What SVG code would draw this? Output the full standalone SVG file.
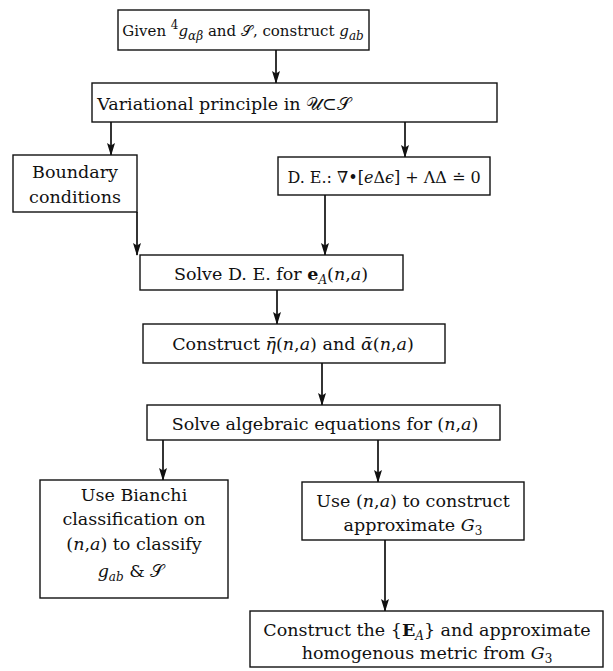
<svg xmlns="http://www.w3.org/2000/svg" width="613" height="671" viewBox="0 0 613 671">
<style>
.box{fill:#fff;stroke:#111;stroke-width:1.4}
.t{font-family:"DejaVu Serif","Liberation Serif",serif;font-size:17.5px;fill:#111;text-anchor:middle}
.i{font-style:italic}
.b{font-weight:bold}
.c{stroke:#111;stroke-width:1.7;fill:none}
.sub{font-size:12px}
</style>
<defs>
<marker id="ah" markerWidth="13" markerHeight="8" refX="12" refY="4" orient="auto" markerUnits="userSpaceOnUse" viewBox="0 0 13 8">
<path d="M0,0 L2.5,4 L0,8 L13,4 Z" fill="#111"/>
</marker>
</defs>
<rect width="613" height="671" fill="#fff"/>
<g id="connectors">
<line class="c" x1="276" y1="50" x2="276" y2="83" marker-end="url(#ah)"/>
<line class="c" x1="111" y1="122" x2="111" y2="155" marker-end="url(#ah)"/>
<line class="c" x1="405" y1="122" x2="405" y2="157" marker-end="url(#ah)"/>
<line class="c" x1="137" y1="212" x2="137" y2="255" marker-end="url(#ah)"/>
<line class="c" x1="325" y1="195" x2="325" y2="255" marker-end="url(#ah)"/>
<line class="c" x1="277" y1="290" x2="277" y2="324" marker-end="url(#ah)"/>
<line class="c" x1="322" y1="363" x2="322" y2="405" marker-end="url(#ah)"/>
<line class="c" x1="163" y1="440" x2="163" y2="480" marker-end="url(#ah)"/>
<line class="c" x1="378" y1="440" x2="378" y2="482" marker-end="url(#ah)"/>
<line class="c" x1="385" y1="540" x2="385" y2="611" marker-end="url(#ah)"/>
</g>
<g id="n1">
<rect class="box" x="118" y="10" width="251" height="40"/>
<text class="t" x="243" y="36" style="font-size:15px">Given <tspan dy="-7" class="sub">4</tspan><tspan dy="7" class="i">g</tspan><tspan dy="4" class="sub i">αβ</tspan><tspan dy="-4"> and 𝒮, construct </tspan><tspan class="i">g</tspan><tspan dy="4" class="sub i">ab</tspan></text>
</g>
<g id="n2">
<rect class="box" x="92" y="83" width="405" height="39"/>
<text class="t" x="224" y="110">Variational principle in 𝒰⊂𝒮</text>
</g>
<g id="n3">
<rect class="box" x="13" y="155" width="124" height="57"/>
<text class="t" x="75" y="178">Boundary</text>
<text class="t" x="75" y="203">conditions</text>
</g>
<g id="n4">
<rect class="box" x="278" y="157" width="212" height="38"/>
<text class="t" x="384" y="183" style="font-size:16px">D. E.: ∇•[<tspan class="i">e</tspan>Δ<tspan class="i">ϵ</tspan>] + ΛΔ ≐ 0</text>
</g>
<g id="n5">
<rect class="box" x="140" y="255" width="263" height="35"/>
<text class="t" x="271" y="280">Solve D. E. for <tspan class="b">e</tspan><tspan dy="4" class="sub i">A</tspan><tspan dy="-4">(</tspan><tspan class="i">n</tspan>,<tspan class="i">a</tspan>)</text>
</g>
<g id="n6">
<rect class="box" x="143" y="324" width="302" height="39"/>
<text class="t" x="293" y="350">Construct <tspan class="i">η̄</tspan>(<tspan class="i">n</tspan>,<tspan class="i">a</tspan>) and <tspan class="i">ᾱ</tspan>(<tspan class="i">n</tspan>,<tspan class="i">a</tspan>)</text>
</g>
<g id="n7">
<rect class="box" x="147" y="405" width="353" height="35"/>
<text class="t" x="325" y="430">Solve algebraic equations for (<tspan class="i">n</tspan>,<tspan class="i">a</tspan>)</text>
</g>
<g id="n8">
<rect class="box" x="40" y="480" width="188" height="118"/>
<text class="t" x="134" y="501">Use Bianchi</text>
<text class="t" x="134" y="525">classification on</text>
<text class="t" x="134" y="550">(<tspan class="i">n</tspan>,<tspan class="i">a</tspan>) to classify</text>
<text class="t" x="131" y="577"><tspan class="i">g</tspan><tspan dy="4" class="sub i">ab</tspan><tspan dy="-4"> &amp; 𝒮</tspan></text>
</g>
<g id="n9">
<rect class="box" x="302" y="482" width="222" height="58"/>
<text class="t" x="413" y="507">Use (<tspan class="i">n</tspan>,<tspan class="i">a</tspan>) to construct</text>
<text class="t" x="413" y="531">approximate <tspan class="i">G</tspan><tspan dy="4" class="sub">3</tspan></text>
</g>
<g id="n10">
<rect class="box" x="250" y="611" width="353" height="56"/>
<text class="t" x="427" y="636">Construct the {<tspan class="b">E</tspan><tspan dy="4" class="sub i">A</tspan><tspan dy="-4">} and approximate</tspan></text>
<text class="t" x="427" y="659">homogenous metric from <tspan class="i">G</tspan><tspan dy="4" class="sub">3</tspan></text>
</g>
</svg>
